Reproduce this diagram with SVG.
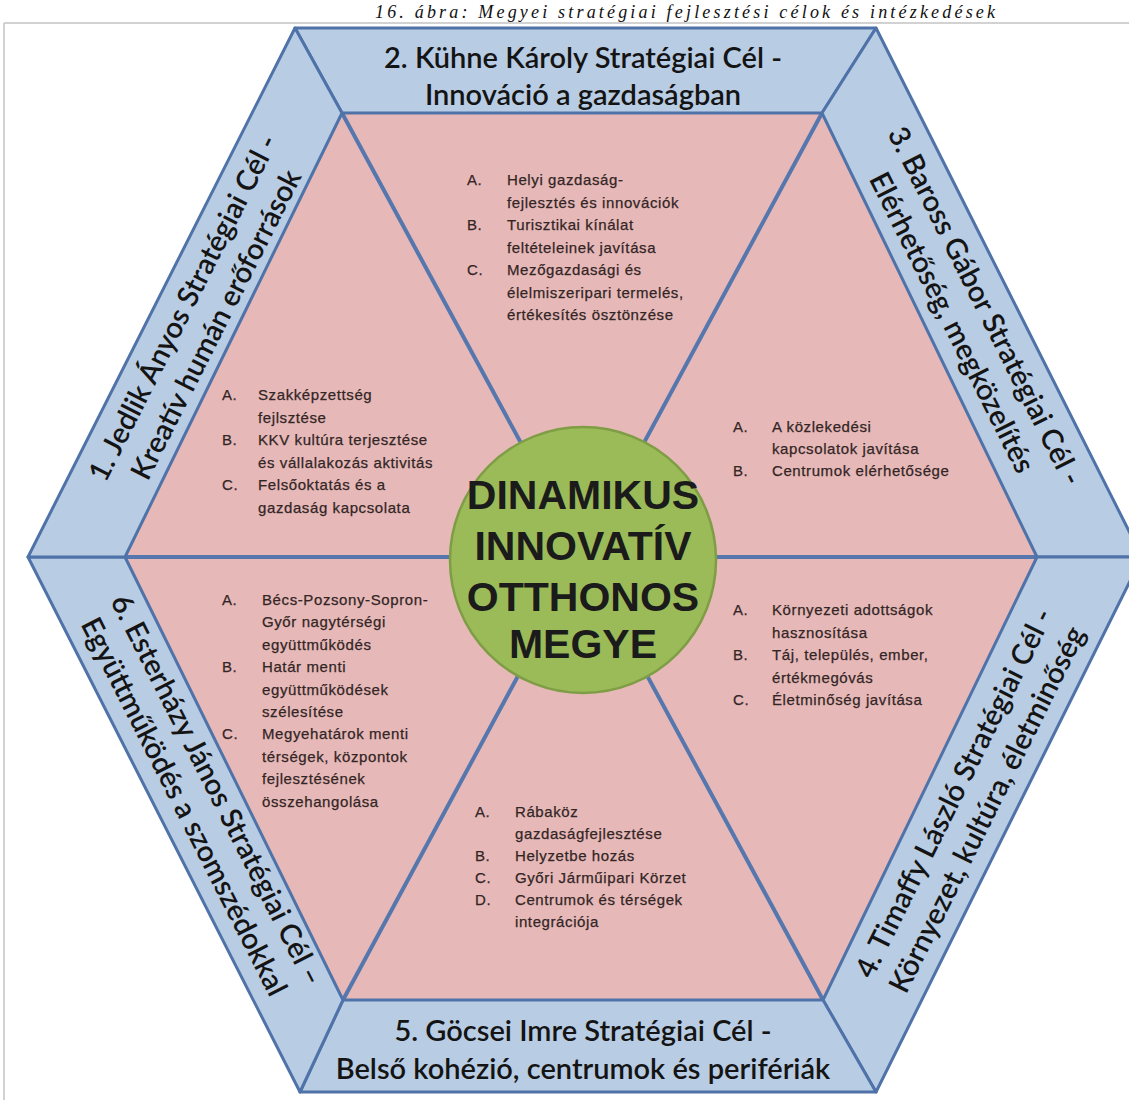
<svg xmlns="http://www.w3.org/2000/svg" width="1129" height="1100" viewBox="0 0 1129 1100">
<style>
.band{fill:#b8cce4;stroke:#4f73a8;stroke-width:3;stroke-linejoin:round}
.pink{fill:#e6b9b8}
.diag{stroke:#5577ad;stroke-width:4;fill:none}
.bt{font-family:Lato,"Liberation Sans",sans-serif;font-weight:600;font-size:29px;fill:#141414;text-anchor:middle}
.li{font-family:"Liberation Sans",Arial,sans-serif;font-size:15px;fill:#332525;stroke:#332525;stroke-width:0.25;letter-spacing:0.6px}
.hub{font-family:"Liberation Sans",Arial,sans-serif;font-weight:bold;font-size:41px;fill:#1b1b1b;text-anchor:middle}
.title{font-family:"Liberation Serif","Times New Roman",serif;font-style:italic;font-size:18px;fill:#111;text-anchor:middle}
</style>
<rect x="0" y="0" width="1129" height="1100" fill="#ffffff"/>
<text class="title" x="685" y="18" textLength="620" lengthAdjust="spacing">16. ábra: Megyei stratégiai fejlesztési célok és intézkedések</text>
<path d="M4 23 H1129 M4 23 V1100" stroke="#c4c4c4" stroke-width="1.5" fill="none"/>

<g id="core-area">
<polygon class="pink" points="342,113 822,113 1037,557 823,1000 343,1000 125,557"/>
</g>

<g id="connectors">
<line class="diag" x1="342" y1="113" x2="823" y2="1000"/>
<line class="diag" x1="822" y1="113" x2="343" y2="1000"/>
<line class="diag" x1="125" y1="557" x2="1037" y2="557"/>
</g>

<g id="band2">
<polygon class="band" points="295,28 876,28 822,113 342,113"/>
<text class="bt" x="583" y="68">2. Kühne Károly Stratégiai Cél -</text>
<text class="bt" x="583" y="105">Innováció a gazdaságban</text>
</g>
<g id="band3">
<polygon class="band" points="876,28 1142,557 1037,557 822,113"/>
<g transform="translate(969,314) rotate(63.3)">
<text class="bt" x="0" y="-8">3. Baross Gábor Stratégiai Cél -</text>
<text class="bt" x="0" y="29">Elérhetőség, megközelítés</text>
</g>
</g>
<g id="band4">
<polygon class="band" points="1142,557 876,1092 823,1000 1037,557"/>
<g transform="translate(970,801) rotate(-63.6)">
<text class="bt" x="0" y="-8">4. Timaffy László Stratégiai Cél -</text>
<text class="bt" x="0" y="29">Környezet, kultúra, életminőség</text>
</g>
</g>
<g id="band5">
<polygon class="band" points="876,1092 300,1092 343,1000 823,1000"/>
<text class="bt" x="583" y="1041">5. Göcsei Imre Stratégiai Cél -</text>
<text class="bt" x="583" y="1079">Belső kohézió, centrumok és perifériák</text>
</g>
<g id="band6">
<polygon class="band" points="300,1092 28,557 125,557 343,1000"/>
<g transform="translate(201,798) rotate(63.1)">
<text class="bt" x="0" y="-8">6. Esterházy János Stratégiai Cél –</text>
<text class="bt" x="0" y="29">Együttműködés a szomszédokkal</text>
</g>
</g>
<g id="band1">
<polygon class="band" points="28,557 295,28 342,113 125,557"/>
<g transform="translate(199,316) rotate(-63.2)">
<text class="bt" x="0" y="-8">1. Jedlik Ányos Stratégiai Cél -</text>
<text class="bt" x="0" y="29">Kreatív humán erőforrások</text>
</g>
</g>

<g id="list2">
<text class="li" x="467" y="185">A.</text><text class="li" x="507" y="185">Helyi gazdaság-</text>
<text class="li" x="507" y="207.5">fejlesztés és innovációk</text>
<text class="li" x="467" y="230">B.</text><text class="li" x="507" y="230">Turisztikai kínálat</text>
<text class="li" x="507" y="252.5">feltételeinek javítása</text>
<text class="li" x="467" y="275">C.</text><text class="li" x="507" y="275">Mezőgazdasági és</text>
<text class="li" x="507" y="297.5">élelmiszeripari termelés,</text>
<text class="li" x="507" y="320">értékesítés ösztönzése</text>
</g>
<g id="list1">
<text class="li" x="222" y="400">A.</text><text class="li" x="258" y="400">Szakképzettség</text>
<text class="li" x="258" y="422.6">fejlsztése</text>
<text class="li" x="222" y="445.2">B.</text><text class="li" x="258" y="445.2">KKV kultúra terjesztése</text>
<text class="li" x="258" y="467.8">és vállalakozás aktivitás</text>
<text class="li" x="222" y="490.4">C.</text><text class="li" x="258" y="490.4">Felsőoktatás és a</text>
<text class="li" x="258" y="513">gazdaság kapcsolata</text>
</g>
<g id="list3">
<text class="li" x="733" y="432">A.</text><text class="li" x="772" y="432">A közlekedési</text>
<text class="li" x="772" y="454">kapcsolatok javítása</text>
<text class="li" x="733" y="476">B.</text><text class="li" x="772" y="476">Centrumok elérhetősége</text>
</g>
<g id="list6">
<text class="li" x="222" y="605">A.</text><text class="li" x="262" y="605">Bécs-Pozsony-Sopron-</text>
<text class="li" x="262" y="627.4">Győr nagytérségi</text>
<text class="li" x="262" y="649.8">együttműködés</text>
<text class="li" x="222" y="672.2">B.</text><text class="li" x="262" y="672.2">Határ menti</text>
<text class="li" x="262" y="694.6">együttműködések</text>
<text class="li" x="262" y="717">szélesítése</text>
<text class="li" x="222" y="739.4">C.</text><text class="li" x="262" y="739.4">Megyehatárok menti</text>
<text class="li" x="262" y="761.8">térségek, központok</text>
<text class="li" x="262" y="784.2">fejlesztésének</text>
<text class="li" x="262" y="806.6">összehangolása</text>
</g>
<g id="list4">
<text class="li" x="733" y="615">A.</text><text class="li" x="772" y="615">Környezeti adottságok</text>
<text class="li" x="772" y="637.5">hasznosítása</text>
<text class="li" x="733" y="660">B.</text><text class="li" x="772" y="660">Táj, település, ember,</text>
<text class="li" x="772" y="682.5">értékmegóvás</text>
<text class="li" x="733" y="705">C.</text><text class="li" x="772" y="705">Életminőség javítása</text>
</g>
<g id="list5">
<text class="li" x="475" y="817">A.</text><text class="li" x="515" y="817">Rábaköz</text>
<text class="li" x="515" y="839">gazdaságfejlesztése</text>
<text class="li" x="475" y="861">B.</text><text class="li" x="515" y="861">Helyzetbe hozás</text>
<text class="li" x="475" y="883">C.</text><text class="li" x="515" y="883">Győri Járműipari Körzet</text>
<text class="li" x="475" y="905">D.</text><text class="li" x="515" y="905">Centrumok és térségek</text>
<text class="li" x="515" y="927">integrációja</text>
</g>

<g id="hub">
<circle cx="583" cy="560" r="133" fill="#9bbb59" stroke="#7f9d45" stroke-width="2.5"/>
<text class="hub" x="583" y="509">DINAMIKUS</text>
<text class="hub" x="583" y="560">INNOVATÍV</text>
<text class="hub" x="583" y="611">OTTHONOS</text>
<text class="hub" x="583" y="658">MEGYE</text>
</g>
</svg>
